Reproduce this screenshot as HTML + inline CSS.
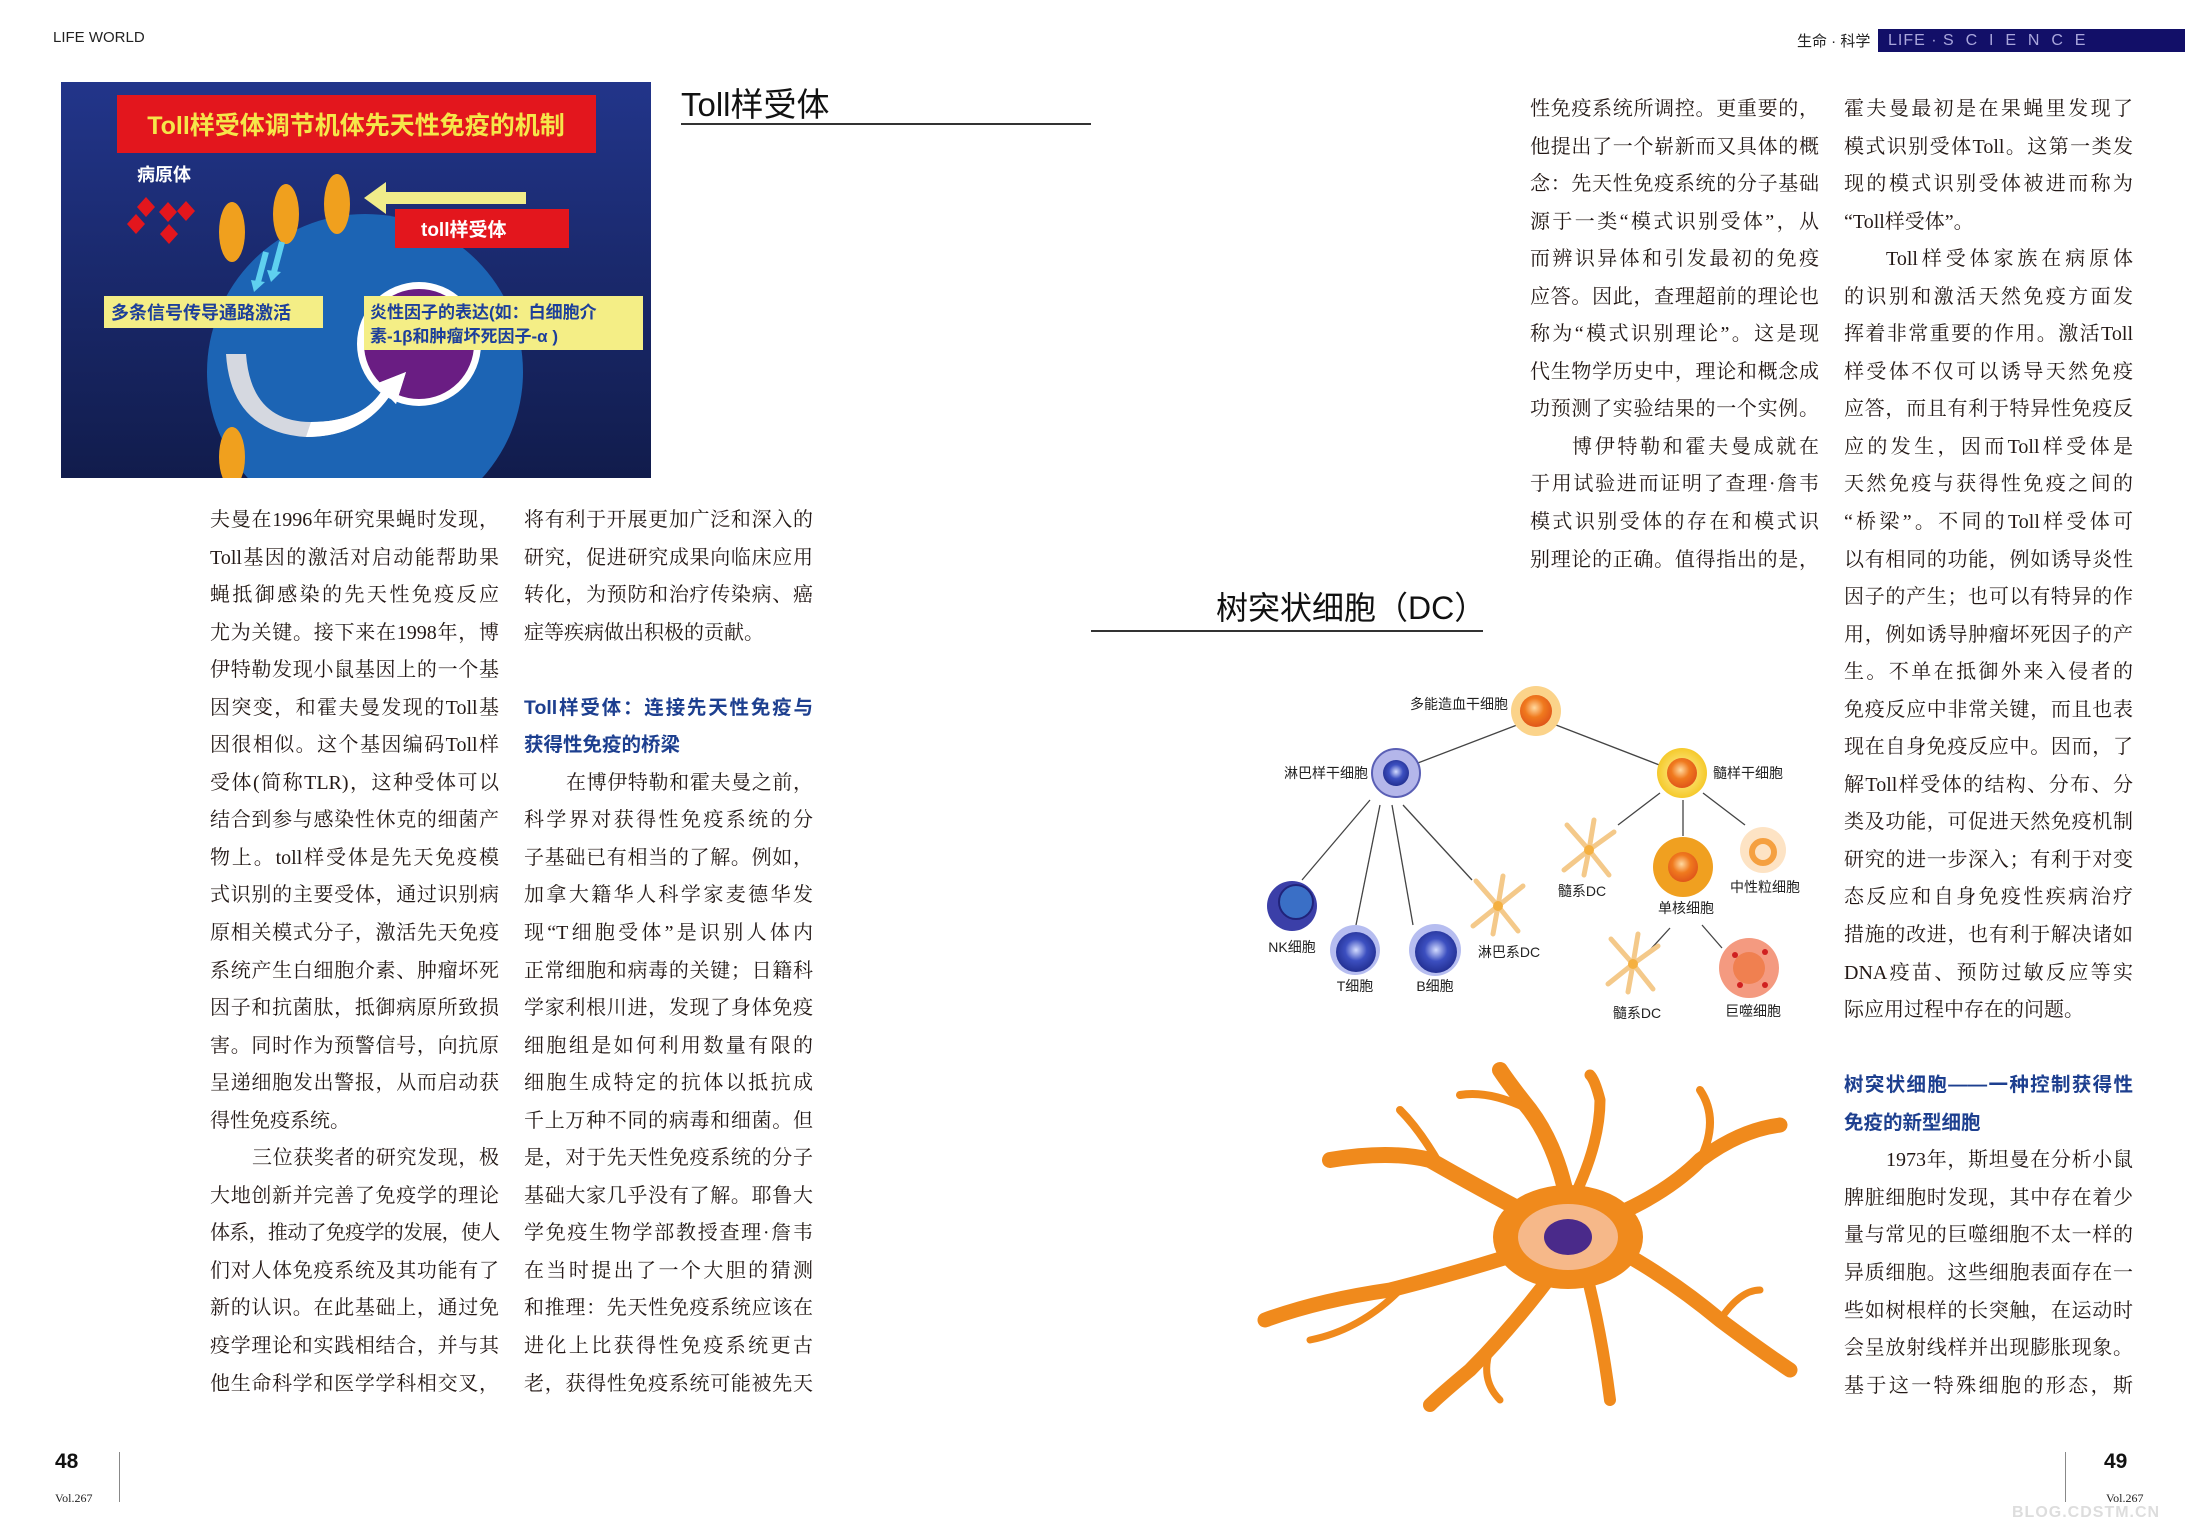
<!DOCTYPE html>
<html><head><meta charset="utf-8">
<style>
*{margin:0;padding:0;box-sizing:border-box}
body{width:2185px;height:1535px;background:#fff;position:relative;overflow:hidden;font-family:"Liberation Serif","Noto Serif CJK SC",serif;color:#231815}
.abs{position:absolute}
.col{position:absolute;width:289px;font-size:20px;line-height:37.55px}
.col div{text-align:justify;text-align-last:justify;white-space:nowrap;overflow:visible;height:37.55px}
.col div.l{text-align-last:left}
.col div.i{padding-left:42px}
.col div.t{letter-spacing:-1.3px}
.col div.h{font-family:"Liberation Sans","Noto Sans CJK SC",sans-serif;font-weight:bold;color:#1d3f8f;font-size:19.5px}
.sans{font-family:"Liberation Sans","Noto Sans CJK SC",sans-serif}
</style></head><body>

<div class="abs sans" style="left:53px;top:29px;font-size:15px;color:#222">LIFE WORLD</div>

<div class="abs sans" style="left:1797px;top:30px;font-size:15px;color:#222">生命 · 科学</div>
<div class="abs sans" style="left:1878px;top:29px;width:307px;height:23px;background:#120f68;color:#a9a6dc;font-size:16px;line-height:23px;padding-left:10px;letter-spacing:1px">LIFE · S&nbsp;&nbsp;C&nbsp;&nbsp;I&nbsp;&nbsp;E&nbsp;&nbsp;N&nbsp;&nbsp;C&nbsp;&nbsp;E</div>

<svg class="abs" style="left:61px;top:82px" width="590" height="396" viewBox="0 0 590 396">
<defs>
<linearGradient id="bg" x1="0" y1="0" x2="0" y2="1"><stop offset="0" stop-color="#22358a"/><stop offset="1" stop-color="#111c4c"/></linearGradient>
</defs>
<rect width="590" height="396" fill="url(#bg)"/>
<circle cx="304" cy="290" r="158" fill="#1c64b4"/>
<circle cx="358" cy="262" r="62" fill="#fff"/>
<circle cx="358" cy="262" r="55" fill="#6a1d83"/>
<path d="M185 272 Q190 340 250 340 Q300 340 320 310 L312 303 L345 290 L335 322 L328 315 Q300 355 245 355 Q170 350 165 272 Z" fill="#d5d8e0"/>
<path d="M250 340 Q300 340 320 310 L312 303 L345 290 L335 322 L328 315 Q300 355 245 355 Z" fill="#fff"/>
<rect x="56" y="13" width="479" height="58" fill="#e3161d"/>
<text x="295" y="52" text-anchor="middle" font-family="Liberation Sans,Noto Sans CJK SC,sans-serif" font-weight="bold" font-size="25" fill="#f5e64a">Toll样受体调节机体先天性免疫的机制</text>
<text x="76" y="99" font-family="Liberation Sans,Noto Sans CJK SC,sans-serif" font-weight="bold" font-size="18" fill="#fff">病原体</text>
<g fill="#e3161d">
<path d="M85 115 l9 10 l-9 10 l-9 -10z"/><path d="M107 120 l9 10 l-9 10 l-9 -10z"/><path d="M125 119 l9 10 l-9 10 l-9 -10z"/>
<path d="M75 132 l9 10 l-9 10 l-9 -10z"/><path d="M108 142 l9 10 l-9 10 l-9 -10z"/>
</g>
<g fill="#f0a01e">
<ellipse cx="171" cy="150" rx="13" ry="30"/><ellipse cx="225" cy="132" rx="13" ry="30"/><ellipse cx="276" cy="122" rx="13" ry="30"/><ellipse cx="171" cy="375" rx="13" ry="30"/>
</g>
<path d="M465 110 L325 110 L325 100 L303 116 L325 132 L325 122 L465 122Z" fill="#f0ec8a"/>
<rect x="334" y="127" width="174" height="39" fill="#e3161d"/>
<text x="360" y="154" font-family="Liberation Sans,Noto Sans CJK SC,sans-serif" font-weight="bold" font-size="19" fill="#fff">toll样受体</text>
<g stroke="#5fd0ef" stroke-width="6" fill="none"><path d="M221 160 L213 190"/><path d="M205 170 L197 200"/></g>
<g fill="#5fd0ef"><path d="M206 188 L220 190 L210 200z"/><path d="M190 198 L204 200 L193 210z"/></g>
<rect x="43" y="214" width="219" height="32" fill="#f4ee86"/>
<text x="50" y="237" font-family="Liberation Sans,Noto Sans CJK SC,sans-serif" font-weight="bold" font-size="18" fill="#1d3f9a">多条信号传导通路激活</text>
<rect x="303" y="214" width="279" height="54" fill="#f4ee86"/>
<text x="309" y="236" font-family="Liberation Sans,Noto Sans CJK SC,sans-serif" font-weight="bold" font-size="17" fill="#1d3f9a">炎性因子的表达(如：白细胞介</text>
<text x="309" y="260" font-family="Liberation Sans,Noto Sans CJK SC,sans-serif" font-weight="bold" font-size="17" fill="#1d3f9a">素-1β和肿瘤坏死因子-α )</text>
</svg>

<div class="abs sans" style="left:681px;top:78px;font-size:33px;color:#111">Toll样受体</div>
<div class="abs" style="left:681px;top:123px;width:410px;height:2px;background:#333"></div>

<div class="abs sans" style="left:1216px;top:583px;font-size:32px;color:#111">树突状细胞（DC）</div>
<div class="abs" style="left:1091px;top:630px;width:392px;height:2px;background:#333"></div>

<div class="col" style="left:210px;top:502px">
<div>夫曼在1996年研究果蝇时发现，</div>
<div>Toll基因的激活对启动能帮助果</div>
<div>蝇抵御感染的先天性免疫反应</div>
<div>尤为关键。接下来在1998年，博</div>
<div>伊特勒发现小鼠基因上的一个基</div>
<div>因突变，和霍夫曼发现的Toll基</div>
<div>因很相似。这个基因编码Toll样</div>
<div>受体(简称TLR)，这种受体可以</div>
<div>结合到参与感染性休克的细菌产</div>
<div>物上。toll样受体是先天免疫模</div>
<div>式识别的主要受体，通过识别病</div>
<div>原相关模式分子，激活先天免疫</div>
<div>系统产生白细胞介素、肿瘤坏死</div>
<div>因子和抗菌肽，抵御病原所致损</div>
<div>害。同时作为预警信号，向抗原</div>
<div>呈递细胞发出警报，从而启动获</div>
<div class="l">得性免疫系统。</div>
<div class="i">三位获奖者的研究发现，极</div>
<div>大地创新并完善了免疫学的理论</div>
<div class="t">体系，推动了免疫学的发展，使人</div>
<div>们对人体免疫系统及其功能有了</div>
<div>新的认识。在此基础上，通过免</div>
<div>疫学理论和实践相结合，并与其</div>
<div>他生命科学和医学学科相交叉，</div>
</div>

<div class="col" style="left:524px;top:502px">
<div>将有利于开展更加广泛和深入的</div>
<div>研究，促进研究成果向临床应用</div>
<div>转化，为预防和治疗传染病、癌</div>
<div class="l">症等疾病做出积极的贡献。</div>
<div class="l"></div>
<div class="h">Toll样受体：连接先天性免疫与</div>
<div class="h l">获得性免疫的桥梁</div>
<div class="i">在博伊特勒和霍夫曼之前，</div>
<div>科学界对获得性免疫系统的分</div>
<div>子基础已有相当的了解。例如，</div>
<div>加拿大籍华人科学家麦德华发</div>
<div>现“T细胞受体”是识别人体内</div>
<div>正常细胞和病毒的关键；日籍科</div>
<div>学家利根川进，发现了身体免疫</div>
<div>细胞组是如何利用数量有限的</div>
<div>细胞生成特定的抗体以抵抗成</div>
<div>千上万种不同的病毒和细菌。但</div>
<div>是，对于先天性免疫系统的分子</div>
<div>基础大家几乎没有了解。耶鲁大</div>
<div>学免疫生物学部教授查理·詹韦</div>
<div>在当时提出了一个大胆的猜测</div>
<div>和推理：先天性免疫系统应该在</div>
<div>进化上比获得性免疫系统更古</div>
<div>老，获得性免疫系统可能被先天</div>
</div>

<div class="col" style="left:1530px;top:91px">
<div>性免疫系统所调控。更重要的，</div>
<div>他提出了一个崭新而又具体的概</div>
<div>念：先天性免疫系统的分子基础</div>
<div>源于一类“模式识别受体”，从</div>
<div>而辨识异体和引发最初的免疫</div>
<div>应答。因此，查理超前的理论也</div>
<div>称为“模式识别理论”。这是现</div>
<div>代生物学历史中，理论和概念成</div>
<div>功预测了实验结果的一个实例。</div>
<div class="i">博伊特勒和霍夫曼成就在</div>
<div>于用试验进而证明了查理·詹韦</div>
<div>模式识别受体的存在和模式识</div>
<div>别理论的正确。值得指出的是，</div>
</div>

<div class="col" style="left:1844px;top:91px">
<div>霍夫曼最初是在果蝇里发现了</div>
<div>模式识别受体Toll。这第一类发</div>
<div>现的模式识别受体被进而称为</div>
<div class="l">“Toll样受体”。</div>
<div class="i">Toll样受体家族在病原体</div>
<div>的识别和激活天然免疫方面发</div>
<div>挥着非常重要的作用。激活Toll</div>
<div>样受体不仅可以诱导天然免疫</div>
<div>应答，而且有利于特异性免疫反</div>
<div>应的发生，因而Toll样受体是</div>
<div>天然免疫与获得性免疫之间的</div>
<div>“桥梁”。不同的Toll样受体可</div>
<div>以有相同的功能，例如诱导炎性</div>
<div>因子的产生；也可以有特异的作</div>
<div>用，例如诱导肿瘤坏死因子的产</div>
<div>生。不单在抵御外来入侵者的</div>
<div>免疫反应中非常关键，而且也表</div>
<div>现在自身免疫反应中。因而，了</div>
<div>解Toll样受体的结构、分布、分</div>
<div>类及功能，可促进天然免疫机制</div>
<div>研究的进一步深入；有利于对变</div>
<div>态反应和自身免疫性疾病治疗</div>
<div>措施的改进，也有利于解决诸如</div>
<div>DNA疫苗、预防过敏反应等实</div>
<div class="l">际应用过程中存在的问题。</div>
<div class="l"></div>
<div class="h">树突状细胞——一种控制获得性</div>
<div class="h l">免疫的新型细胞</div>
<div class="i">1973年，斯坦曼在分析小鼠</div>
<div>脾脏细胞时发现，其中存在着少</div>
<div>量与常见的巨噬细胞不太一样的</div>
<div>异质细胞。这些细胞表面存在一</div>
<div>些如树根样的长突触，在运动时</div>
<div>会呈放射线样并出现膨胀现象。</div>
<div>基于这一特殊细胞的形态，斯</div>
</div>

<svg class="abs" style="left:0;top:0" width="2185" height="1535">
<defs>
<radialGradient id="og" cx=".45" cy=".4" r=".6"><stop offset="0" stop-color="#ffd9a0"/><stop offset=".5" stop-color="#f07a1e"/><stop offset="1" stop-color="#e0561a"/></radialGradient>
<radialGradient id="bl" cx=".5" cy=".45" r=".6"><stop offset="0" stop-color="#d4dcff"/><stop offset=".45" stop-color="#3c4fc0"/><stop offset="1" stop-color="#1e2a8a"/></radialGradient>
<radialGradient id="yl" cx=".5" cy=".5" r=".5"><stop offset="0" stop-color="#fff3a0"/><stop offset="1" stop-color="#f5c92b"/></radialGradient>
</defs>
<g stroke="#444" stroke-width="1.3">
<line x1="1517" y1="725" x2="1410" y2="766"/><line x1="1556" y1="725" x2="1662" y2="766"/>
<line x1="1370" y1="800" x2="1302" y2="880"/><line x1="1380" y1="805" x2="1356" y2="925"/>
<line x1="1392" y1="805" x2="1413" y2="925"/><line x1="1403" y1="805" x2="1472" y2="880"/>
<line x1="1660" y1="793" x2="1618" y2="825"/><line x1="1683" y1="800" x2="1683" y2="836"/><line x1="1703" y1="793" x2="1745" y2="825"/>
<line x1="1670" y1="928" x2="1650" y2="950"/><line x1="1702" y1="925" x2="1722" y2="948"/>
</g>
<circle cx="1536" cy="711" r="25" fill="#fbd38a"/><circle cx="1536" cy="711" r="16" fill="url(#og)"/>
<circle cx="1396" cy="773" r="24" fill="#b4b6ea" stroke="#5a5fb5" stroke-width="2"/><circle cx="1396" cy="773" r="13" fill="url(#bl)"/>
<circle cx="1682" cy="773" r="25" fill="url(#yl)"/><circle cx="1682" cy="773" r="15" fill="url(#og)"/>
<circle cx="1292" cy="906" r="25" fill="#3b3fa8"/><circle cx="1296" cy="902" r="17" fill="#3a6fc6" stroke="#20237a" stroke-width="2"/>
<circle cx="1355" cy="950" r="25" fill="#b6bdf0"/><circle cx="1356" cy="952" r="20" fill="url(#bl)"/>
<circle cx="1435" cy="950" r="26" fill="#b6bdf0"/><circle cx="1436" cy="952" r="21" fill="url(#bl)"/>
<circle cx="1683" cy="867" r="30" fill="#f0a020"/><circle cx="1683" cy="867" r="15" fill="url(#og)"/>
<circle cx="1763" cy="850" r="23" fill="#fde3c4"/><circle cx="1763" cy="852" r="11" fill="none" stroke="#f5a040" stroke-width="6"/>
<circle cx="1749" cy="968" r="30" fill="#f49a80"/><circle cx="1749" cy="968" r="16" fill="#f08050"/>
<g fill="#d02020"><circle cx="1735" cy="955" r="3"/><circle cx="1765" cy="952" r="3"/><circle cx="1740" cy="985" r="3"/><circle cx="1765" cy="985" r="3"/></g>
<g stroke="#f4c98a" stroke-width="5" fill="none" stroke-linecap="round">
<path d="M1498 906 l-22 -25 M1498 906 l5 -30 M1498 906 l25 -20 M1498 906 l-25 20 M1498 906 l20 25 M1498 906 l-5 28"/>
<path d="M1589 850 l-22 -25 M1589 850 l5 -30 M1589 850 l25 -18 M1589 850 l-25 20 M1589 850 l20 25 M1589 850 l-5 25"/>
<path d="M1633 964 l-22 -25 M1633 964 l5 -30 M1633 964 l25 -18 M1633 964 l-25 20 M1633 964 l20 25 M1633 964 l-5 28"/>
</g>
<g fill="#f5b040"><circle cx="1498" cy="906" r="5"/><circle cx="1589" cy="850" r="5"/><circle cx="1633" cy="964" r="5"/></g>
<g font-family="Liberation Sans,Noto Sans CJK SC,sans-serif" font-size="14" fill="#222">
<text x="1508" y="709" text-anchor="end">多能造血干细胞</text>
<text x="1368" y="778" text-anchor="end">淋巴样干细胞</text>
<text x="1713" y="778">髓样干细胞</text>
<text x="1292" y="952" text-anchor="middle">NK细胞</text>
<text x="1355" y="991" text-anchor="middle">T细胞</text>
<text x="1435" y="991" text-anchor="middle">B细胞</text>
<text x="1509" y="957" text-anchor="middle">淋巴系DC</text>
<text x="1582" y="896" text-anchor="middle">髓系DC</text>
<text x="1686" y="913" text-anchor="middle">单核细胞</text>
<text x="1765" y="892" text-anchor="middle">中性粒细胞</text>
<text x="1637" y="1018" text-anchor="middle">髓系DC</text>
<text x="1753" y="1016" text-anchor="middle">巨噬细胞</text>
</g>

<g stroke="#f08a1c" fill="none" stroke-linecap="round" stroke-linejoin="round">
<path d="M1560 1230 Q1500 1200 1430 1160 Q1390 1150 1330 1160" stroke-width="16"/>
<path d="M1440 1165 Q1420 1130 1400 1110" stroke-width="8"/>
<path d="M1560 1240 Q1470 1270 1390 1290 Q1320 1300 1265 1320" stroke-width="15"/>
<path d="M1400 1290 Q1360 1330 1310 1340" stroke-width="7"/>
<path d="M1570 1250 Q1520 1320 1470 1370 Q1440 1395 1430 1405" stroke-width="14"/>
<path d="M1490 1350 Q1480 1380 1500 1400" stroke-width="7"/>
<path d="M1580 1250 Q1600 1320 1610 1400" stroke-width="12"/>
<path d="M1590 1235 Q1660 1270 1720 1320 Q1760 1350 1790 1370" stroke-width="15"/>
<path d="M1720 1320 Q1740 1290 1760 1290" stroke-width="7"/>
<path d="M1590 1225 Q1660 1200 1700 1160 Q1740 1130 1780 1125" stroke-width="15"/>
<path d="M1700 1160 Q1720 1120 1700 1090" stroke-width="8"/>
<path d="M1570 1215 Q1560 1150 1530 1110 Q1510 1085 1500 1070" stroke-width="16"/>
<path d="M1530 1110 Q1490 1090 1460 1095" stroke-width="8"/>
<path d="M1565 1215 Q1600 1150 1600 1100 Q1595 1080 1590 1075" stroke-width="11"/>
</g>
<ellipse cx="1568" cy="1237" rx="75" ry="52" fill="#f08a1c"/>
<ellipse cx="1568" cy="1237" rx="50" ry="33" fill="#f6b889"/>
<ellipse cx="1568" cy="1237" rx="24" ry="18" fill="#4a2a8a"/>
</svg>

<div class="abs sans" style="left:55px;top:1450px;font-size:21px;font-weight:bold;color:#111">48</div>
<div class="abs" style="left:55px;top:1491px;font-size:12px;color:#222">Vol.267</div>
<div class="abs" style="left:119px;top:1452px;width:1px;height:50px;background:#888"></div>
<div class="abs sans" style="left:2104px;top:1450px;font-size:21px;font-weight:bold;color:#111">49</div>
<div class="abs" style="left:2106px;top:1491px;font-size:12px;color:#222">Vol.267</div>
<div class="abs" style="left:2065px;top:1452px;width:1px;height:50px;background:#888"></div>
<div class="abs sans" style="left:2012px;top:1504px;font-size:16px;font-weight:bold;color:#ddd;letter-spacing:1px">BLOG.CDSTM.CN</div>
</body></html>
